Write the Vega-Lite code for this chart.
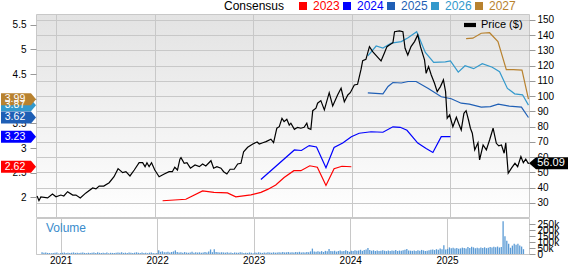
{
  "$schema": "https://vega.github.io/schema/vega-lite/v6.json",
  "padding": 0,
  "spacing": -2,
  "config": {
    "font": "Liberation Sans",
    "axis": {"labelFont": "Liberation Sans", "labelColor": "#000000", "labelFontSize": 10, "tickColor": "#999999", "gridColor": "#c8c8c8", "labelOverlap": false, "labelSeparation": -30},
    "axisY": {"labelOverlap": false, "labelSeparation": -30},
    "axisQuantitative": {"labelOverlap": false},
    "legend": {"labelFont": "Liberation Sans", "titleFont": "Liberation Sans"},
    "title": {"font": "Liberation Sans"}
  },
  "datasets": {
    "price": [
      {"d":"2020-10-23","p":34.6},{"d":"2020-10-30","p":31.5},{"d":"2020-11-06","p":33.9},{"d":"2020-12-01","p":33.3},{"d":"2020-12-19","p":35.9},
      {"d":"2021-01-01","p":34.1},{"d":"2021-01-19","p":35.2},{"d":"2021-01-30","p":34.6},{"d":"2021-02-13","p":37.4},{"d":"2021-03-04","p":35.2},
      {"d":"2021-03-16","p":35.2},{"d":"2021-04-01","p":33.3},{"d":"2021-04-22","p":36.6},{"d":"2021-05-17","p":39.8},{"d":"2021-05-29","p":39.2},
      {"d":"2021-06-10","p":41.1},{"d":"2021-06-27","p":41.1},{"d":"2021-07-17","p":43.3},{"d":"2021-08-04","p":47.2},{"d":"2021-08-19","p":52.5},
      {"d":"2021-09-05","p":49.9},{"d":"2021-09-17","p":50.5},{"d":"2021-10-02","p":47.7},{"d":"2021-10-18","p":51.6},{"d":"2021-11-05","p":56.4},
      {"d":"2021-11-18","p":56.4},{"d":"2021-11-27","p":53.8},{"d":"2021-12-04","p":56.4},{"d":"2021-12-12","p":53.8},{"d":"2021-12-21","p":56.4},
      {"d":"2022-01-02","p":51.6},{"d":"2022-01-18","p":47.2},{"d":"2022-02-06","p":49.0},{"d":"2022-02-24","p":50.5},{"d":"2022-03-08","p":50.5},
      {"d":"2022-03-17","p":53.4},{"d":"2022-03-27","p":51.6},{"d":"2022-04-05","p":58.7},{"d":"2022-04-09","p":59.7},{"d":"2022-04-21","p":56.0},
      {"d":"2022-05-01","p":56.4},{"d":"2022-05-14","p":52.8},{"d":"2022-05-31","p":54.9},{"d":"2022-06-16","p":53.8},{"d":"2022-06-28","p":55.6},
      {"d":"2022-07-10","p":54.3},{"d":"2022-07-29","p":57.7},{"d":"2022-08-08","p":52.8},{"d":"2022-08-20","p":53.8},{"d":"2022-09-04","p":52.8},
      {"d":"2022-09-14","p":50.5},{"d":"2022-09-26","p":49.0},{"d":"2022-10-08","p":52.1},{"d":"2022-10-23","p":52.1},{"d":"2022-11-05","p":55.6},
      {"d":"2022-11-17","p":56.0},{"d":"2022-11-27","p":63.6},{"d":"2022-12-12","p":66.5},{"d":"2022-12-31","p":68.7},{"d":"2023-01-16","p":70.0},
      {"d":"2023-01-24","p":68.7},{"d":"2023-02-06","p":69.5},{"d":"2023-02-18","p":70.2},{"d":"2023-03-08","p":71.8},{"d":"2023-03-18","p":69.5},
      {"d":"2023-03-30","p":79.0},{"d":"2023-04-08","p":80.0},{"d":"2023-04-18","p":85.5},{"d":"2023-04-26","p":83.3},{"d":"2023-05-06","p":84.9},
      {"d":"2023-05-15","p":81.1},{"d":"2023-05-21","p":82.3},{"d":"2023-06-03","p":78.3},{"d":"2023-06-15","p":79.6},{"d":"2023-06-27","p":79.0},
      {"d":"2023-07-09","p":79.6},{"d":"2023-07-19","p":82.3},{"d":"2023-07-24","p":79.0},{"d":"2023-08-03","p":78.3},{"d":"2023-08-10","p":90.5},
      {"d":"2023-08-22","p":92.1},{"d":"2023-08-28","p":95.4},{"d":"2023-09-09","p":97.1},{"d":"2023-09-22","p":91.0},{"d":"2023-10-10","p":102.3},
      {"d":"2023-10-23","p":93.6},{"d":"2023-11-10","p":100.8},{"d":"2023-11-23","p":105.2},{"d":"2023-12-05","p":96.4},{"d":"2023-12-18","p":100.8},
      {"d":"2023-12-27","p":102.3},{"d":"2024-01-11","p":107.4},{"d":"2024-01-23","p":107.8},{"d":"2024-02-05","p":117.7},{"d":"2024-02-11","p":123.3},
      {"d":"2024-02-23","p":124.2},{"d":"2024-03-07","p":132.5},{"d":"2024-03-19","p":129.2},{"d":"2024-04-07","p":125.5},{"d":"2024-04-19","p":123.1},
      {"d":"2024-05-01","p":128.2},{"d":"2024-05-11","p":132.5},{"d":"2024-05-20","p":133.6},{"d":"2024-06-02","p":135.1},{"d":"2024-06-08","p":142.3},
      {"d":"2024-06-26","p":142.8},{"d":"2024-07-09","p":142.3},{"d":"2024-07-17","p":131.4},{"d":"2024-07-27","p":127.0},{"d":"2024-08-08","p":132.5},
      {"d":"2024-08-21","p":135.8},{"d":"2024-09-02","p":140.2},{"d":"2024-09-12","p":132.5},{"d":"2024-09-27","p":123.8},{"d":"2024-10-03","p":115.0},
      {"d":"2024-10-12","p":119.4},{"d":"2024-10-22","p":113.9},{"d":"2024-11-03","p":108.5},{"d":"2024-11-13","p":103.0},{"d":"2024-11-25","p":106.3},
      {"d":"2024-12-06","p":110.7},{"d":"2024-12-14","p":103.0},{"d":"2024-12-20","p":85.5},{"d":"2024-12-29","p":87.7},{"d":"2025-01-10","p":80.0},
      {"d":"2025-01-23","p":86.2},{"d":"2025-01-31","p":82.3},{"d":"2025-02-10","p":77.9},{"d":"2025-02-20","p":88.8},{"d":"2025-02-28","p":90.5},
      {"d":"2025-03-09","p":84.4},{"d":"2025-03-16","p":79.0},{"d":"2025-03-23","p":75.7},{"d":"2025-04-01","p":64.8},{"d":"2025-04-13","p":69.5},
      {"d":"2025-04-19","p":58.2},{"d":"2025-05-02","p":68.0},{"d":"2025-05-14","p":64.8},{"d":"2025-05-26","p":71.3},{"d":"2025-06-08","p":79.0},
      {"d":"2025-06-20","p":69.1},{"d":"2025-06-29","p":67.4},{"d":"2025-07-09","p":68.0},{"d":"2025-07-19","p":62.6},{"d":"2025-07-25","p":69.5},
      {"d":"2025-08-03","p":49.5},{"d":"2025-08-15","p":52.8},{"d":"2025-08-28","p":56.0},{"d":"2025-09-07","p":53.8},{"d":"2025-09-19","p":60.4},
      {"d":"2025-09-28","p":56.4},{"d":"2025-10-07","p":58.7},{"d":"2025-10-16","p":56.0},{"d":"2025-10-19","p":56.09}
    ],
    "lastPrice": [{"d":"2025-10-19","p":56.09}],
    "eps": [
      {"yr":"2023","d":"2022-01-31","e":1.93},{"yr":"2023","d":"2022-04-27","e":1.96},{"yr":"2023","d":"2022-06-28","e":2.13},{"yr":"2023","d":"2022-08-09","e":2.10},
      {"yr":"2023","d":"2022-09-28","e":2.09},{"yr":"2023","d":"2022-10-29","e":2.01},{"yr":"2023","d":"2022-12-24","e":2.05},{"yr":"2023","d":"2023-01-30","e":2.10},
      {"yr":"2023","d":"2023-02-24","e":2.16},{"yr":"2023","d":"2023-03-26","e":2.25},{"yr":"2023","d":"2023-04-26","e":2.40},{"yr":"2023","d":"2023-06-01","e":2.54},
      {"yr":"2023","d":"2023-06-27","e":2.54},{"yr":"2023","d":"2023-07-30","e":2.64},{"yr":"2023","d":"2023-08-27","e":2.61},{"yr":"2023","d":"2023-09-28","e":2.24},
      {"yr":"2023","d":"2023-10-28","e":2.58},{"yr":"2023","d":"2023-11-26","e":2.63},{"yr":"2023","d":"2023-12-31","e":2.62},
      {"yr":"2024","d":"2023-01-30","e":2.36},{"yr":"2024","d":"2023-06-03","e":2.96},{"yr":"2024","d":"2023-06-29","e":2.95},{"yr":"2024","d":"2023-07-28","e":3.05},
      {"yr":"2024","d":"2023-08-24","e":3.02},{"yr":"2024","d":"2023-09-28","e":2.60},{"yr":"2024","d":"2023-10-28","e":3.01},{"yr":"2024","d":"2023-11-29","e":3.10},
      {"yr":"2024","d":"2023-12-31","e":3.23},{"yr":"2024","d":"2024-01-29","e":3.30},{"yr":"2024","d":"2024-03-13","e":3.33},{"yr":"2024","d":"2024-04-26","e":3.32},
      {"yr":"2024","d":"2024-06-02","e":3.43},{"yr":"2024","d":"2024-06-29","e":3.42},{"yr":"2024","d":"2024-07-24","e":3.36},{"yr":"2024","d":"2024-09-02","e":3.10},
      {"yr":"2024","d":"2024-10-03","e":2.99},{"yr":"2024","d":"2024-10-28","e":2.91},{"yr":"2024","d":"2024-11-28","e":3.23},{"yr":"2024","d":"2025-01-01","e":3.23},
      {"yr":"2025","d":"2024-03-01","e":4.12},{"yr":"2025","d":"2024-04-26","e":4.10},{"yr":"2025","d":"2024-05-15","e":4.25},{"yr":"2025","d":"2024-06-02","e":4.33},
      {"yr":"2025","d":"2024-07-03","e":4.32},{"yr":"2025","d":"2024-07-28","e":4.35},{"yr":"2025","d":"2024-08-27","e":4.35},{"yr":"2025","d":"2024-10-11","e":4.21},
      {"yr":"2025","d":"2024-11-28","e":4.04},{"yr":"2025","d":"2025-01-04","e":4.00},{"yr":"2025","d":"2025-02-10","e":3.91},{"yr":"2025","d":"2025-03-12","e":3.89},
      {"yr":"2025","d":"2025-04-25","e":3.83},{"yr":"2025","d":"2025-05-29","e":3.84},{"yr":"2025","d":"2025-06-27","e":3.89},{"yr":"2025","d":"2025-08-07","e":3.85},
      {"yr":"2025","d":"2025-09-21","e":3.83},{"yr":"2025","d":"2025-10-17","e":3.62},
      {"yr":"2026","d":"2024-03-01","e":4.87},{"yr":"2026","d":"2024-04-01","e":5.07},{"yr":"2026","d":"2024-04-26","e":5.03},{"yr":"2026","d":"2024-05-27","e":5.13},
      {"yr":"2026","d":"2024-07-03","e":5.16},{"yr":"2026","d":"2024-07-28","e":5.24},{"yr":"2026","d":"2024-08-29","e":5.36},{"yr":"2026","d":"2024-09-30","e":4.94},
      {"yr":"2026","d":"2024-10-31","e":4.74},{"yr":"2026","d":"2024-12-13","e":4.75},{"yr":"2026","d":"2025-01-01","e":4.77},{"yr":"2026","d":"2025-01-30","e":4.54},
      {"yr":"2026","d":"2025-02-24","e":4.67},{"yr":"2026","d":"2025-03-28","e":4.61},{"yr":"2026","d":"2025-04-29","e":4.71},{"yr":"2026","d":"2025-06-05","e":4.64},
      {"yr":"2026","d":"2025-07-02","e":4.55},{"yr":"2026","d":"2025-07-31","e":4.21},{"yr":"2026","d":"2025-08-27","e":4.10},{"yr":"2026","d":"2025-09-25","e":4.08},
      {"yr":"2026","d":"2025-10-17","e":3.87},
      {"yr":"2027","d":"2025-02-28","e":5.22},{"yr":"2027","d":"2025-03-25","e":5.23},{"yr":"2027","d":"2025-04-25","e":5.33},{"yr":"2027","d":"2025-05-26","e":5.34},
      {"yr":"2027","d":"2025-06-26","e":5.16},{"yr":"2027","d":"2025-07-27","e":4.59},{"yr":"2027","d":"2025-08-22","e":4.59},{"yr":"2027","d":"2025-09-23","e":4.58},
      {"yr":"2027","d":"2025-10-17","e":3.99}
    ],
    "lastEps": [
      {"yr":"2026","e":3.87},{"yr":"2027","e":3.99},{"yr":"2025","e":3.62},{"yr":"2024","e":3.23},{"yr":"2023","e":2.62}
    ],
    "vol": [
      {"d":"2020-10-23","v":14},{"d":"2020-10-30","v":10},{"d":"2020-11-06","v":12},{"d":"2020-11-13","v":9},{"d":"2020-11-20","v":8},{"d":"2020-11-27","v":6},
      {"d":"2020-12-04","v":9},{"d":"2020-12-11","v":11},{"d":"2020-12-18","v":13},{"d":"2020-12-25","v":5},
      {"d":"2021-01-01","v":8},{"d":"2021-01-08","v":10},{"d":"2021-01-15","v":12},{"d":"2021-01-22","v":9},{"d":"2021-01-29","v":11},
      {"d":"2021-02-05","v":8},{"d":"2021-02-12","v":10},{"d":"2021-02-19","v":13},{"d":"2021-02-26","v":9},
      {"d":"2021-03-05","v":11},{"d":"2021-03-12","v":8},{"d":"2021-03-19","v":10},{"d":"2021-03-26","v":12},
      {"d":"2021-04-02","v":9},{"d":"2021-04-09","v":7},{"d":"2021-04-16","v":10},{"d":"2021-04-23","v":8},{"d":"2021-04-30","v":11},
      {"d":"2021-05-07","v":12},{"d":"2021-05-14","v":9},{"d":"2021-05-21","v":14},{"d":"2021-05-28","v":10},
      {"d":"2021-06-04","v":8},{"d":"2021-06-11","v":11},{"d":"2021-06-18","v":9},{"d":"2021-06-25","v":12},
      {"d":"2021-07-02","v":7},{"d":"2021-07-09","v":10},{"d":"2021-07-16","v":9},{"d":"2021-07-23","v":8},{"d":"2021-07-30","v":11},
      {"d":"2021-08-06","v":13},{"d":"2021-08-13","v":10},{"d":"2021-08-20","v":15},{"d":"2021-08-27","v":9},
      {"d":"2021-09-03","v":11},{"d":"2021-09-10","v":8},{"d":"2021-09-17","v":12},{"d":"2021-09-24","v":10},
      {"d":"2021-10-01","v":9},{"d":"2021-10-08","v":11},{"d":"2021-10-15","v":14},{"d":"2021-10-22","v":10},{"d":"2021-10-29","v":8},
      {"d":"2021-11-05","v":12},{"d":"2021-11-12","v":9},{"d":"2021-11-19","v":10},{"d":"2021-11-26","v":7},
      {"d":"2021-12-03","v":11},{"d":"2021-12-10","v":13},{"d":"2021-12-17","v":9},{"d":"2021-12-24","v":6},{"d":"2021-12-31","v":8},
      {"d":"2022-01-07","v":32},{"d":"2022-01-14","v":18},{"d":"2022-01-21","v":22},{"d":"2022-01-28","v":15},
      {"d":"2022-02-04","v":14},{"d":"2022-02-11","v":19},{"d":"2022-02-18","v":12},{"d":"2022-02-25","v":16},
      {"d":"2022-03-04","v":21},{"d":"2022-03-11","v":30},{"d":"2022-03-18","v":17},{"d":"2022-03-25","v":12},
      {"d":"2022-04-01","v":14},{"d":"2022-04-08","v":11},{"d":"2022-04-15","v":16},{"d":"2022-04-22","v":12},{"d":"2022-04-29","v":10},
      {"d":"2022-05-06","v":13},{"d":"2022-05-13","v":18},{"d":"2022-05-20","v":11},{"d":"2022-05-27","v":15},
      {"d":"2022-06-03","v":12},{"d":"2022-06-10","v":14},{"d":"2022-06-17","v":10},{"d":"2022-06-24","v":13},
      {"d":"2022-07-01","v":16},{"d":"2022-07-08","v":12},{"d":"2022-07-15","v":20},{"d":"2022-07-22","v":38},{"d":"2022-07-29","v":15},
      {"d":"2022-08-05","v":40},{"d":"2022-08-12","v":17},{"d":"2022-08-19","v":14},{"d":"2022-08-26","v":12},
      {"d":"2022-09-02","v":15},{"d":"2022-09-09","v":13},{"d":"2022-09-16","v":11},{"d":"2022-09-23","v":14},{"d":"2022-09-30","v":10},
      {"d":"2022-10-07","v":12},{"d":"2022-10-14","v":9},{"d":"2022-10-21","v":13},{"d":"2022-10-28","v":11},
      {"d":"2022-11-04","v":10},{"d":"2022-11-11","v":14},{"d":"2022-11-18","v":12},{"d":"2022-11-25","v":8},
      {"d":"2022-12-02","v":11},{"d":"2022-12-09","v":9},{"d":"2022-12-16","v":13},{"d":"2022-12-23","v":10},{"d":"2022-12-30","v":7},
      {"d":"2023-01-06","v":12},{"d":"2023-01-13","v":10},{"d":"2023-01-20","v":14},{"d":"2023-01-27","v":11},
      {"d":"2023-02-03","v":9},{"d":"2023-02-10","v":13},{"d":"2023-02-17","v":11},{"d":"2023-02-24","v":15},
      {"d":"2023-03-03","v":12},{"d":"2023-03-10","v":10},{"d":"2023-03-17","v":14},{"d":"2023-03-24","v":11},{"d":"2023-03-31","v":13},
      {"d":"2023-04-07","v":15},{"d":"2023-04-14","v":12},{"d":"2023-04-21","v":16},{"d":"2023-04-28","v":13},
      {"d":"2023-05-05","v":14},{"d":"2023-05-12","v":17},{"d":"2023-05-19","v":12},{"d":"2023-05-26","v":15},
      {"d":"2023-06-02","v":13},{"d":"2023-06-09","v":16},{"d":"2023-06-16","v":14},{"d":"2023-06-23","v":18},{"d":"2023-06-30","v":12},
      {"d":"2023-07-07","v":15},{"d":"2023-07-14","v":13},{"d":"2023-07-21","v":17},{"d":"2023-07-28","v":14},
      {"d":"2023-08-04","v":22},{"d":"2023-08-11","v":45},{"d":"2023-08-18","v":20},{"d":"2023-08-25","v":18},
      {"d":"2023-09-01","v":22},{"d":"2023-09-08","v":19},{"d":"2023-09-15","v":24},{"d":"2023-09-22","v":17},{"d":"2023-09-29","v":26},
      {"d":"2023-10-06","v":23},{"d":"2023-10-13","v":42},{"d":"2023-10-20","v":25},{"d":"2023-10-27","v":22},
      {"d":"2023-11-03","v":27},{"d":"2023-11-10","v":20},{"d":"2023-11-17","v":24},{"d":"2023-11-24","v":29},
      {"d":"2023-12-01","v":22},{"d":"2023-12-08","v":26},{"d":"2023-12-15","v":31},{"d":"2023-12-22","v":25},{"d":"2023-12-29","v":18},
      {"d":"2024-01-05","v":28},{"d":"2024-01-12","v":24},{"d":"2024-01-19","v":32},{"d":"2024-01-26","v":27},
      {"d":"2024-02-02","v":30},{"d":"2024-02-09","v":35},{"d":"2024-02-16","v":26},{"d":"2024-02-23","v":33},
      {"d":"2024-03-01","v":38},{"d":"2024-03-08","v":50},{"d":"2024-03-15","v":34},{"d":"2024-03-22","v":27},{"d":"2024-03-29","v":31},
      {"d":"2024-04-05","v":26},{"d":"2024-04-12","v":30},{"d":"2024-04-19","v":25},{"d":"2024-04-26","v":28},
      {"d":"2024-05-03","v":32},{"d":"2024-05-10","v":27},{"d":"2024-05-17","v":24},{"d":"2024-05-24","v":29},{"d":"2024-05-31","v":26},
      {"d":"2024-06-07","v":30},{"d":"2024-06-14","v":28},{"d":"2024-06-21","v":33},{"d":"2024-06-28","v":25},
      {"d":"2024-07-05","v":29},{"d":"2024-07-12","v":27},{"d":"2024-07-19","v":31},{"d":"2024-07-26","v":36},
      {"d":"2024-08-02","v":42},{"d":"2024-08-09","v":30},{"d":"2024-08-16","v":28},{"d":"2024-08-23","v":26},{"d":"2024-08-30","v":29},
      {"d":"2024-09-06","v":25},{"d":"2024-09-13","v":31},{"d":"2024-09-20","v":27},{"d":"2024-09-27","v":34},
      {"d":"2024-10-04","v":30},{"d":"2024-10-11","v":26},{"d":"2024-10-18","v":28},{"d":"2024-10-25","v":32},
      {"d":"2024-11-01","v":35},{"d":"2024-11-08","v":38},{"d":"2024-11-15","v":33},{"d":"2024-11-22","v":40},{"d":"2024-11-29","v":36},
      {"d":"2024-12-06","v":45},{"d":"2024-12-13","v":40},{"d":"2024-12-20","v":72},{"d":"2024-12-27","v":38},
      {"d":"2025-01-03","v":42},{"d":"2025-01-10","v":55},{"d":"2025-01-17","v":48},{"d":"2025-01-24","v":52},{"d":"2025-01-31","v":45},
      {"d":"2025-02-07","v":50},{"d":"2025-02-14","v":44},{"d":"2025-02-21","v":47},{"d":"2025-02-28","v":53},
      {"d":"2025-03-07","v":49},{"d":"2025-03-14","v":46},{"d":"2025-03-21","v":58},{"d":"2025-03-28","v":51},
      {"d":"2025-04-04","v":60},{"d":"2025-04-11","v":55},{"d":"2025-04-18","v":48},{"d":"2025-04-25","v":52},
      {"d":"2025-05-02","v":47},{"d":"2025-05-09","v":54},{"d":"2025-05-16","v":50},{"d":"2025-05-23","v":56},{"d":"2025-05-30","v":49},
      {"d":"2025-06-06","v":52},{"d":"2025-06-13","v":58},{"d":"2025-06-20","v":55},{"d":"2025-06-27","v":60},
      {"d":"2025-07-04","v":57},{"d":"2025-07-11","v":62},{"d":"2025-07-18","v":54},{"d":"2025-07-25","v":58},
      {"d":"2025-08-01","v":272},{"d":"2025-08-08","v":147},{"d":"2025-08-15","v":111},{"d":"2025-08-22","v":86},{"d":"2025-08-29","v":52},
      {"d":"2025-09-05","v":70},{"d":"2025-09-12","v":86},{"d":"2025-09-19","v":78},{"d":"2025-09-26","v":86},
      {"d":"2025-10-03","v":70},{"d":"2025-10-10","v":62},{"d":"2025-10-17","v":40}
    ]
  },
  "vconcat": [
    {
      "width": 493,
      "height": 203,
      "view": {
        "fill": {"gradient": "linear", "x1": 0, "y1": 0, "x2": 0, "y2": 1, "stops": [{"offset": 0, "color": "#e3e3e3"}, {"offset": 1, "color": "#ffffff"}]},
        "stroke": "#c8c8c8"
      },
      "layer": [
        {
          "layer": [
            {
              "data": {"name": "eps"},
              "mark": {"type": "line", "strokeWidth": 1.2},
              "encoding": {
                "x": {"field": "d", "type": "temporal",
                  "scale": {"domain": [{"year": 2020, "month": 10, "date": 19}, {"year": 2025, "month": 10, "date": 19}]},
                  "axis": {"title": null, "labels": false, "ticks": false, "domain": false, "grid": true, "gridColor": "#c8c8c8",
                    "values": [{"year": 2021, "month": 1, "date": 1}, {"year": 2022, "month": 1, "date": 1}, {"year": 2023, "month": 1, "date": 1}, {"year": 2024, "month": 1, "date": 1}, {"year": 2025, "month": 1, "date": 1}]}},
                "y": {"field": "e", "type": "quantitative",
                  "scale": {"domain": [1.6, 5.72], "nice": false, "zero": false},
                  "axis": {"orient": "left", "title": null, "grid": false, "domain": false, "tickSize": 6, "labelPadding": 4, "labelOverlap": false, "labelSeparation": -30, "format": "~g", "values": [2, 2.5, 3, 3.5, 4, 4.5, 5, 5.5]}},
                "color": {"field": "yr", "type": "nominal",
                  "scale": {"domain": ["2023", "2024", "2025", "2026", "2027"], "range": ["#ff0000", "#0000ff", "#1f5fb5", "#3399cc", "#b8822f"]},
                  "legend": {"orient": "none", "legendX": 188, "legendY": -14, "direction": "horizontal",
                    "title": "Consensus", "titleOrient": "left", "titleFontSize": 12, "titleFontWeight": "normal", "titleColor": "#000000", "titlePadding": 12,
                    "symbolType": "square", "symbolSize": 64, "symbolStrokeWidth": 0, "labelFontSize": 12, "labelOffset": 4, "columnPadding": 1, "padding": 0,
                    "encode": {
                      "labels": {"update": {"fill": {"signal": "datum.value == '2023' ? '#ff0000' : datum.value == '2024' ? '#0000ff' : datum.value == '2025' ? '#1f5fb5' : datum.value == '2026' ? '#3399cc' : '#b8822f'"}}},
                      "symbols": {"update": {"fill": {"signal": "datum.value == '2023' ? '#ff0000' : datum.value == '2024' ? '#0000ff' : datum.value == '2025' ? '#1f5fb5' : datum.value == '2026' ? '#3399cc' : '#b8822f'"}, "stroke": {"value": "transparent"}}}
                    }}}
              }
            },
            {
              "data": {"name": "lastEps"},
              "mark": {"type": "point", "shape": "M-1,-0.343L0.714,-0.343L1,0L0.714,0.343L-1,0.343Z", "size": 1225, "filled": true, "opacity": 1, "strokeWidth": 0, "xOffset": -17.5, "clip": false},
              "encoding": {
                "x": {"datum": {"year": 2020, "month": 10, "date": 19}, "type": "temporal"},
                "y": {"field": "e", "type": "quantitative", "scale": {"domain": [1.6, 5.72], "nice": false, "zero": false},
                  "axis": {"orient": "left", "title": null, "grid": false, "domain": false, "tickSize": 6, "labelPadding": 4, "labelOverlap": false, "labelSeparation": -30, "format": "~g", "values": [2, 2.5, 3, 3.5, 4, 4.5, 5, 5.5]}},
                "color": {"field": "yr", "type": "nominal", "legend": null}
              }
            },
            {
              "data": {"name": "lastEps"},
              "mark": {"type": "text", "color": "#ffffff", "fontSize": 10.5, "dx": -21, "align": "center", "baseline": "middle", "clip": false},
              "encoding": {
                "x": {"datum": {"year": 2020, "month": 10, "date": 19}, "type": "temporal"},
                "y": {"field": "e", "type": "quantitative", "scale": {"domain": [1.6, 5.72], "nice": false, "zero": false},
                  "axis": {"orient": "left", "title": null, "grid": false, "domain": false, "tickSize": 6, "labelPadding": 4, "labelOverlap": false, "labelSeparation": -30, "format": "~g", "values": [2, 2.5, 3, 3.5, 4, 4.5, 5, 5.5]}},
                "text": {"field": "e", "type": "quantitative", "format": ".2f"}
              }
            }
          ]
        },
        {
          "layer": [
            {
              "data": {"name": "price"},
              "mark": {"type": "line", "strokeWidth": 1.2},
              "encoding": {
                "x": {"field": "d", "type": "temporal"},
                "y": {"field": "p", "type": "quantitative",
                  "scale": {"domain": [20.8, 153.9], "nice": false, "zero": false},
                  "axis": {"orient": "right", "title": null, "grid": true, "gridColor": "#c8c8c8", "domain": false, "tickSize": 6, "labelPadding": 2, "labelOverlap": false, "labelSeparation": -30, "values": [30, 40, 50, 60, 70, 80, 90, 100, 110, 120, 130, 140, 150]}},
                "stroke": {"datum": "Price ($)", "type": "nominal", "scale": {"range": ["#000000"]},
                  "legend": {"orient": "none", "legendX": 428, "legendY": 5, "title": null, "padding": 0,
                    "symbolType": "M-1,-0.35L1,-0.35L1,0.35L-1,0.35Z", "symbolSize": 144, "symbolStrokeWidth": 0, "symbolFillColor": "#000000",
                    "labelFontSize": 11, "labelColor": "#000000", "labelOffset": 5,
                    "encode": {"symbols": {"update": {"fill": {"value": "#000000"}, "strokeWidth": {"value": 0}}}}}}
              }
            },
            {
              "data": {"name": "lastPrice"},
              "mark": {"type": "point", "shape": "M-1,0L-0.65,-0.3L1,-0.3L1,0.3L-0.65,0.3Z", "size": 1600, "filled": true, "opacity": 1, "strokeWidth": 0, "color": "#000000", "xOffset": 20, "clip": false},
              "encoding": {
                "x": {"field": "d", "type": "temporal"},
                "y": {"field": "p", "type": "quantitative", "scale": {"domain": [20.8, 153.9], "nice": false, "zero": false},
                  "axis": {"orient": "right", "title": null, "grid": true, "gridColor": "#c8c8c8", "domain": false, "tickSize": 6, "labelPadding": 2, "labelOverlap": false, "labelSeparation": -30, "values": [30, 40, 50, 60, 70, 80, 90, 100, 110, 120, 130, 140, 150]}}
              }
            },
            {
              "data": {"name": "lastPrice"},
              "mark": {"type": "text", "color": "#ffffff", "fontSize": 11, "dx": 22, "align": "center", "baseline": "middle", "clip": false},
              "encoding": {
                "x": {"field": "d", "type": "temporal"},
                "y": {"field": "p", "type": "quantitative", "scale": {"domain": [20.8, 153.9], "nice": false, "zero": false},
                  "axis": {"orient": "right", "title": null, "grid": true, "gridColor": "#c8c8c8", "domain": false, "tickSize": 6, "labelPadding": 2, "labelOverlap": false, "labelSeparation": -30, "values": [30, 40, 50, 60, 70, 80, 90, 100, 110, 120, 130, 140, 150]}},
                "text": {"field": "p", "type": "quantitative", "format": ".2f"}
              }
            }
          ]
        }
      ],
      "resolve": {"scale": {"y": "independent"}}
    },
    {
      "width": 493,
      "height": 36,
      "data": {"name": "vol"},
      "title": {"text": "Volume", "anchor": "start", "orient": "top", "offset": -17, "dx": 10, "fontSize": 12, "fontWeight": "normal", "color": "#3a8ccc"},
      "view": {"stroke": "#c8c8c8", "fill": "#ffffff"},
      "mark": {"type": "bar", "width": 1.3, "color": "#5b9bd5"},
      "encoding": {
        "x": {"field": "d", "type": "temporal",
          "scale": {"domain": [{"year": 2020, "month": 10, "date": 19}, {"year": 2025, "month": 10, "date": 19}]},
          "axis": {"title": null, "format": "%Y", "grid": true, "gridColor": "#c8c8c8", "ticks": false, "labelPadding": 1, "domainColor": "#c8c8c8", "labelFontSize": 10,
            "values": [{"year": 2021, "month": 1, "date": 1}, {"year": 2022, "month": 1, "date": 1}, {"year": 2023, "month": 1, "date": 1}, {"year": 2024, "month": 1, "date": 1}, {"year": 2025, "month": 1, "date": 1}]}},
        "y": {"field": "v", "type": "quantitative",
          "scale": {"domain": [0, 300], "nice": false},
          "axis": {"orient": "right", "title": null, "grid": false, "domain": false, "tickSize": 6, "labelPadding": 2, "labelOverlap": false, "labelFontSize": 10,
            "values": [0, 50, 100, 150, 200, 250], "labelExpr": "datum.value == 0 ? '0' : datum.value + 'k'"}}
      }
    }
  ]
}
